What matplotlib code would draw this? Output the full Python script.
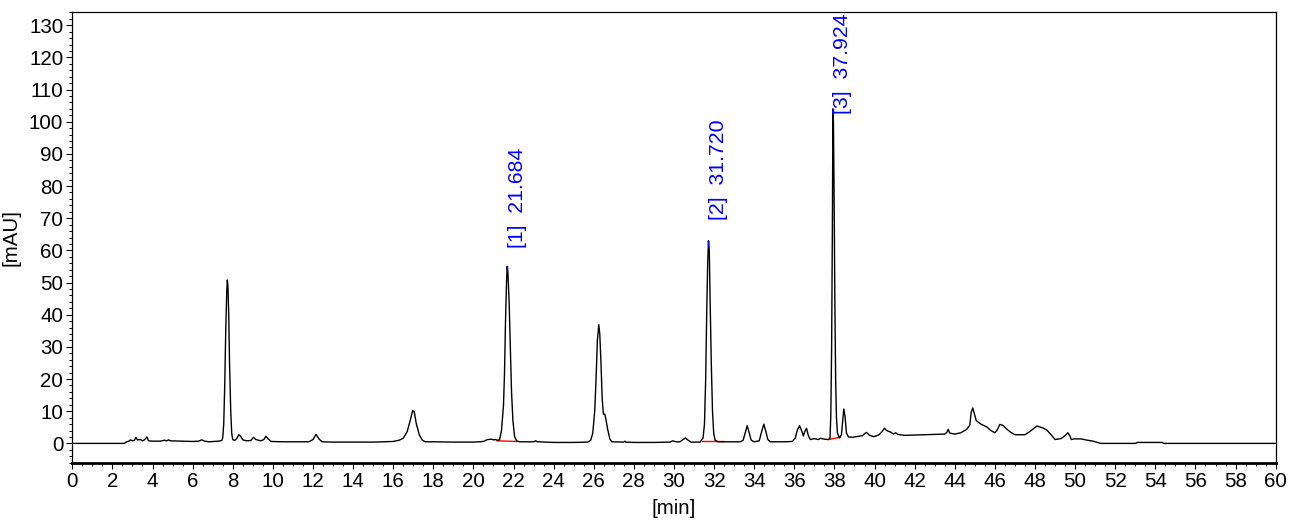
import matplotlib
matplotlib.use("Agg")
import matplotlib.pyplot as plt
from matplotlib.ticker import MultipleLocator

plt.rcParams['font.family'] = ['Liberation Sans', 'DejaVu Sans']

# chromatogram trace: retention time [min], signal [mAU]
time_min = [
    0, 2.6, 2.7, 2.8, 2.9, 3.0, 3.1, 3.17, 3.25, 3.4, 3.5, 3.6, 3.72, 3.8, 4.0, 4.4, 4.6, 4.7, 4.8, 4.9,
    5.5, 6.0, 6.3, 6.45, 6.6, 6.8, 7.3, 7.45, 7.5, 7.55, 7.6, 7.65, 7.7, 7.73, 7.76, 7.8, 7.84, 7.9, 7.95,
    8.0, 8.1, 8.2, 8.3, 8.4, 8.5, 8.7, 8.9, 9.04, 9.15, 9.4, 9.55, 9.65, 9.75, 9.9, 10.5, 11.5, 11.8,
    12.0, 12.15, 12.3, 12.45, 13, 14, 15, 15.5, 16.0, 16.3, 16.5, 16.7, 16.85, 16.97, 17.05, 17.15,
    17.3, 17.45, 17.6, 18, 19, 20, 20.5, 20.7, 20.9, 21.0, 21.1, 21.2, 21.3, 21.4, 21.5, 21.55, 21.6,
    21.65, 21.684, 21.72, 21.78, 21.85, 21.9, 21.97, 22.05, 22.15, 22.3, 23.0, 23.1, 23.2, 24, 25,
    25.7, 25.85, 25.95, 26.05, 26.12, 26.18, 26.25, 26.3, 26.36, 26.42, 26.48, 26.55, 26.6, 26.7,
    26.8, 26.9, 27.5, 27.55, 27.6, 28, 29, 29.8, 29.94, 30.1, 30.3, 30.45, 30.57, 30.7, 30.85, 31.3,
    31.45, 31.52, 31.58, 31.63, 31.68, 31.72, 31.76, 31.8, 31.86, 31.92, 31.98, 32.05, 32.2, 33.3,
    33.45, 33.55, 33.65, 33.75, 33.85, 34.0, 34.25, 34.35, 34.48, 34.58, 34.68, 34.8, 35.5, 35.9,
    36.05, 36.15, 36.26, 36.38, 36.45, 36.52, 36.61, 36.7, 36.8, 37.0, 37.2, 37.3, 37.5, 37.7, 37.78,
    37.82, 37.86, 37.9, 37.924, 37.95, 37.98, 38.02, 38.06, 38.1, 38.15, 38.25, 38.35, 38.42, 38.47,
    38.53, 38.6, 38.7, 38.9, 39.2, 39.4, 39.5, 39.6, 39.75, 39.97, 40.2, 40.35, 40.5, 40.6, 40.8,
    40.95, 41.05, 41.15, 41.5, 42, 42.5, 43, 43.5, 43.6, 43.67, 43.75, 44.0, 44.3, 44.6, 44.75,
    44.82, 44.9, 44.98, 45.07, 45.3, 45.6, 45.8, 46.0, 46.1, 46.25, 46.4, 46.6, 46.8, 47.0, 47.5,
    47.7, 48.1, 48.4, 48.6, 48.8, 49.0, 49.3, 49.5, 49.64, 49.75, 49.81, 49.95, 50.3, 50.6, 50.9,
    51.27, 53.0, 53.1, 54.35, 54.4, 60,
]
signal_mau = [
    0, 0, 0.5, 0.6, 1.1, 0.8, 1.0, 1.9, 1.1, 1.2, 0.8, 1.1, 2.0, 0.8, 0.7, 0.7, 1.0, 0.8, 1.1, 0.8,
    0.7, 0.6, 0.7, 1.1, 0.7, 0.5, 0.7, 0.9, 1.7, 6, 18, 35, 47, 50.8, 49, 40, 25, 10, 3,
    1.2, 0.9, 1.5, 2.7, 2.2, 1.1, 0.8, 0.9, 1.9, 1.2, 0.8, 1.2, 2.2, 1.5, 0.6, 0.5, 0.5, 0.5,
    1.2, 2.8, 1.4, 0.5, 0.4, 0.4, 0.4, 0.5, 0.6, 1.0, 1.6, 3.7, 7.2, 10.2, 9.8, 6.2,
    2.7, 1.0, 0.5, 0.5, 0.4, 0.4, 0.6, 1.2, 1.3, 1.1, 1.2, 1.0, 1.1, 4, 12, 22, 38,
    50, 55.0, 53, 44, 28, 16, 7, 2.2, 0.8, 0.5, 0.5, 0.8, 0.5, 0.3, 0.3,
    0.4, 1.0, 3.2, 10.2, 21, 32, 36.9, 34, 25, 14, 9.1, 9.1, 7.7, 4.2,
    1.4, 0.5, 0.4, 0.7, 0.4, 0.3, 0.3, 0.4, 0.8, 0.5, 0.5, 1.2, 1.7, 1.0, 0.4, 0.4,
    1.7, 6, 20, 40, 56, 63, 60, 45, 25, 10, 3.2, 1.0, 0.5, 0.5,
    1.0, 3.2, 5.5, 3.2, 1.0, 0.5, 0.8, 3.2, 6.0, 3.7, 1.2, 0.5, 0.5, 0.6,
    1.7, 4.2, 5.5, 3.7, 2.3, 3.7, 4.7, 2.4, 1.2, 1.5, 1.2, 1.6, 1.3, 1.2, 1.7,
    9, 30, 70, 104, 100, 80, 45, 20, 8, 3.2, 1.7, 2.7, 7.7, 10.7,
    8.2, 3.2, 2.0, 1.9, 2.2, 2.4, 3.0, 3.4, 2.5, 2.1, 2.6, 3.5, 4.7, 4.0, 3.5,
    2.9, 3.3, 2.8, 2.5, 2.6, 2.7, 2.8, 2.9, 3.4, 4.4, 3.2, 2.9, 3.3, 4.4, 5.7,
    9.7, 11.0, 9.2, 7.1, 6.0, 5.1, 4.0, 3.3, 4.0, 5.9, 5.6, 4.4, 3.4, 2.7, 2.7,
    3.5, 5.4, 4.8, 4.1, 2.7, 1.2, 1.5, 2.4, 3.3, 2.2, 1.2, 1.4, 1.4, 1.0, 0.7,
    0.0, 0.0, 0.3, 0.3, 0.0, 0.0,
]

# integrated peaks
peak_rt = [21.684, 31.720, 37.924]
peak_height = [55.0, 63.0, 104.0]
peak_names = ["[1]", "[2]", "[3]"]
base_start = [21.17, 31.39, 37.70]
base_end = [22.17, 32.44, 38.28]
base_y0 = [0.8, 0.6, 1.2]
base_y1 = [0.6, 0.6, 1.9]

fig = plt.figure(figsize=(12.98, 5.21), dpi=100)
ax = fig.add_axes([0.0557, 0.1119, 0.9271, 0.8656])

ax.plot(time_min, signal_mau, color='black', lw=1.0, zorder=3)

for i in range(len(peak_rt)):
    ax.plot([base_start[i], base_end[i]], [base_y0[i], base_y1[i]], color='red', lw=1.0, zorder=2)
    ax.plot([peak_rt[i], peak_rt[i]], [peak_height[i] - 1.5, peak_height[i]], color='blue', lw=1.0, zorder=4)

label_y = [60.8, 69.3, 102.5]
for i in range(len(peak_rt)):
    ax.text(peak_rt[i] + 0.5, label_y[i], f"{peak_names[i]}  {peak_rt[i]:.3f}",
            rotation=90, ha='center', va='bottom', color='blue', fontsize=15.3,
            clip_on=False, zorder=5)

ax.set_xlim(0, 60)
ax.set_ylim(-6.0, 134.2)
ax.xaxis.set_major_locator(MultipleLocator(2))
ax.xaxis.set_minor_locator(MultipleLocator(0.5))
ax.yaxis.set_major_locator(MultipleLocator(10))
ax.yaxis.set_minor_locator(MultipleLocator(2))
ax.set_yticks(range(0, 131, 10))

ax.tick_params(which='major', direction='out', length=4.5, width=0.8, labelsize=14.8, pad=2)
ax.tick_params(which='minor', direction='out', length=2.5, width=0.7)

for side in ['top', 'right', 'left']:
    ax.spines[side].set_linewidth(0.9)
ax.spines['bottom'].set_linewidth(2.0)

ax.set_xlabel("[min]", fontsize=14.8, labelpad=6)
ax.set_ylabel("[mAU]", fontsize=14.8, labelpad=6)

fig.savefig("out.png", dpi=100)
